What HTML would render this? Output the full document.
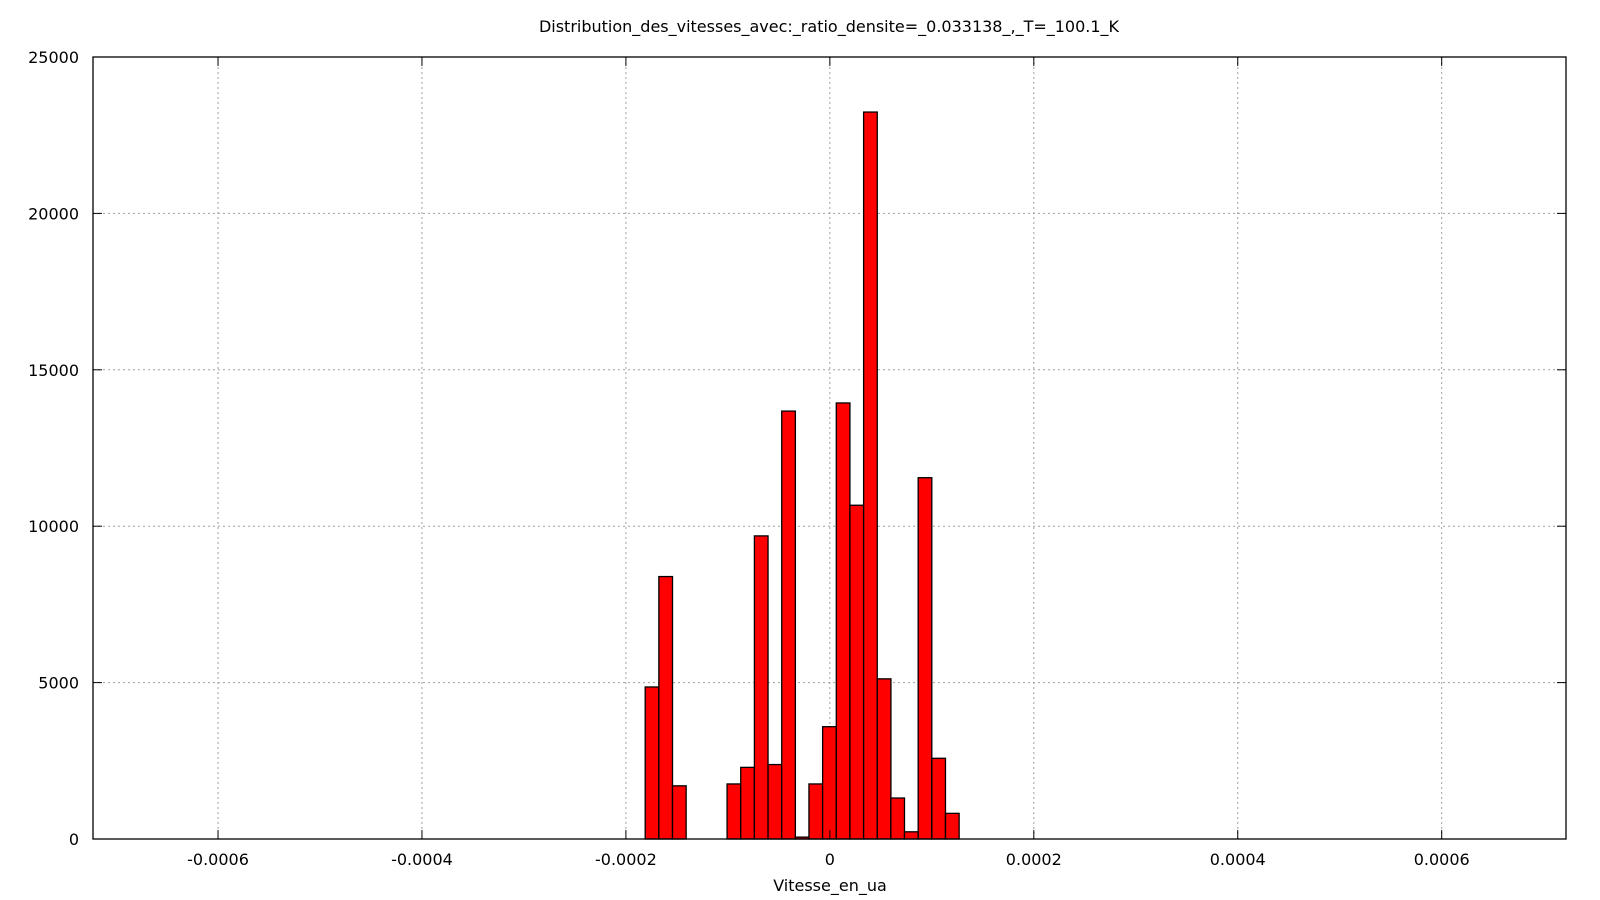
<!DOCTYPE html>
<html><head><meta charset="utf-8"><style>
html,body{margin:0;padding:0;background:#fff;}
svg{display:block;font-family:"DejaVu Sans","Liberation Sans",sans-serif;}
</style></head><body>
<svg id="chart" width="1600" height="900" viewBox="0 0 1600 900" xmlns="http://www.w3.org/2000/svg">
<rect x="0" y="0" width="1600" height="900" fill="#fff"/>
<text x="829" y="32" text-anchor="middle" font-size="16" fill="#000">Distribution_des_vitesses_avec:_ratio_densite=_0.033138_,_T=_100.1_K</text>
<g id="grid"></g>
<g id="bars"></g>
<g id="axes"></g>
<text x="830" y="891" text-anchor="middle" font-size="16" fill="#000">Vitesse_en_ua</text>
</svg>
<script>
const binStarts = [-1.811e-4,-1.677e-4,-1.543e-4,-1.008e-4,-0.874e-4,-0.740e-4,-0.606e-4,-0.472e-4,-0.339e-4,-0.205e-4,-0.071e-4,0.063e-4,0.197e-4,0.331e-4,0.465e-4,0.598e-4,0.732e-4,0.866e-4,1.000e-4,1.134e-4];
const counts = [4860,8390,1700,1760,2290,9690,2380,13680,60,1760,3590,13940,10670,23240,5120,1310,230,11550,2580,820];
const binWidth = 1.3386e-5;
const xTicks = [-0.0006,-0.0004,-0.0002,0,0.0002,0.0004,0.0006];
const xTickLabels = ["-0.0006","-0.0004","-0.0002","0","0.0002","0.0004","0.0006"];
const yTicks = [0,5000,10000,15000,20000,25000];
const yTickLabels = ["0","5000","10000","15000","20000","25000"];

const L=93,R=1566,T=57,B=839;
const xMin=-0.0007226,xMax=0.0007219,yMin=0,yMax=25000;
function xs(v){return L+(v-xMin)/(xMax-xMin)*(R-L);}
function ys(v){return B-(v-yMin)/(yMax-yMin)*(B-T);}
const NS="http://www.w3.org/2000/svg";
function mk(tag,attrs,parent){const e=document.createElementNS(NS,tag);for(const k in attrs)e.setAttribute(k,attrs[k]);parent.appendChild(e);return e;}
const grid=document.getElementById('grid'),bars=document.getElementById('bars'),axes=document.getElementById('axes');

xTicks.forEach((v,i)=>{
  const x=xs(v);
  const g=mk('line',{x1:x,y1:T,x2:x,y2:B,stroke:'#a0a0a0','stroke-width':1,'stroke-dasharray':'2,3'},grid);
  
  
  const t1=mk('line',{x1:x,y1:B,x2:x,y2:B-9,stroke:'#000','stroke-width':1},axes);
  
  
  const t2=mk('line',{x1:x,y1:T,x2:x,y2:T+9,stroke:'#000','stroke-width':1},axes);
  
  
  const lb=mk('text',{x:x,y:865,'text-anchor':'middle','font-size':16,fill:'#000'},axes);
  lb.textContent=xTickLabels[i];
  
  
});
yTicks.forEach((v,i)=>{
  const y=ys(v);
  if(v!==0&&v!==25000){
    const g=mk('line',{x1:L,y1:y,x2:R,y2:y,stroke:'#a0a0a0','stroke-width':1,'stroke-dasharray':'2,3'},grid);
    
    
  }
  const t1=mk('line',{x1:L,y1:y,x2:L+9,y2:y,stroke:'#000','stroke-width':1},axes);
  
  
  const t2=mk('line',{x1:R,y1:y,x2:R-9,y2:y,stroke:'#000','stroke-width':1},axes);
  
  
  const lb=mk('text',{x:79,y:y+6,'text-anchor':'end','font-size':16,fill:'#000'},axes);
  lb.textContent=yTickLabels[i];
  
  
});
binStarts.forEach((s,i)=>{
  const x0=xs(s),x1=xs(s+binWidth),y=ys(counts[i]);
  const r=mk('rect',{x:x0,y:y,width:x1-x0,height:B-y,fill:'#ff0000',stroke:'#000','stroke-width':1.3},bars);
  
  
});
const fr=mk('rect',{x:L,y:T,width:R-L,height:B-T,fill:'none',stroke:'#000','stroke-width':1.3},axes);


</script>
</body></html>
